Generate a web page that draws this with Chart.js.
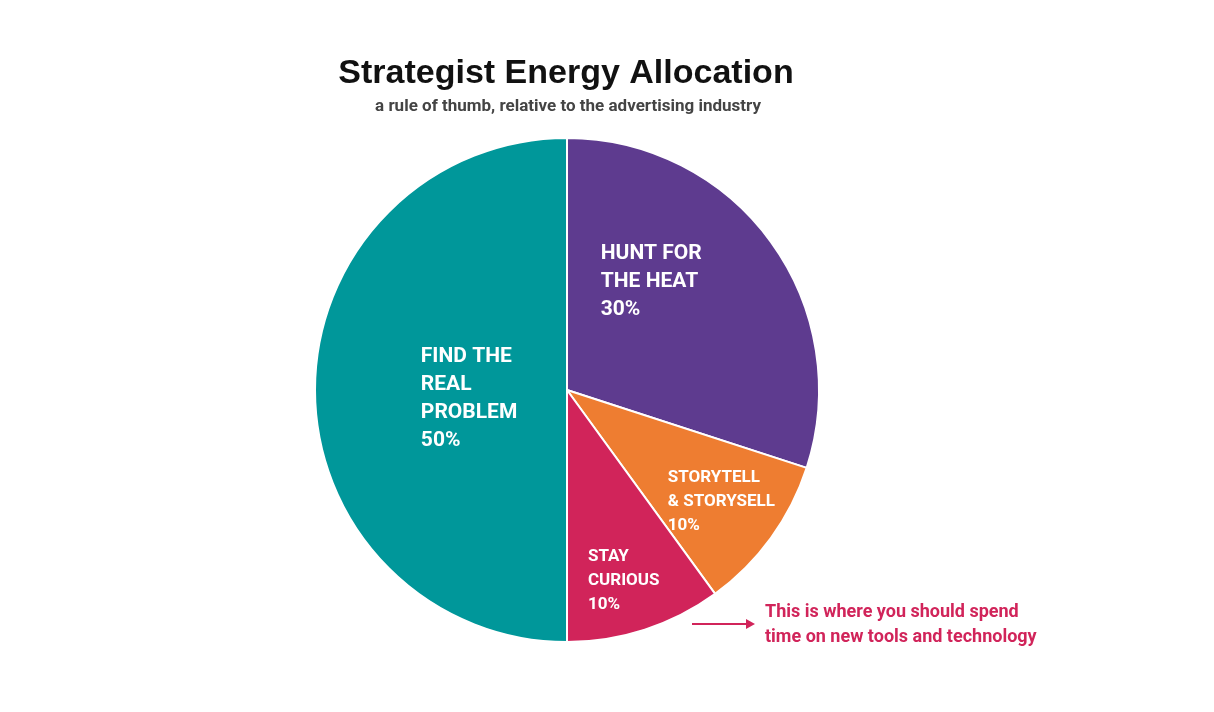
<!DOCTYPE html>
<html><head><meta charset="utf-8">
<script src="https://cdn.jsdelivr.net/npm/chart.js@4/dist/chart.umd.min.js"></script>
<style>html,body{margin:0;padding:0;background:#fff;}#wrap{width:1214px;height:712px;}</style>
</head><body><div id="wrap"><canvas id="c" width="1214" height="712"></canvas></div>
<script>
const categories = ["HUNT FOR THE HEAT", "STORYTELL & STORYSELL", "STAY CURIOUS", "FIND THE REAL PROBLEM"];
const labelLines = [["HUNT FOR","THE HEAT"],["STORYTELL","& STORYSELL"],["STAY","CURIOUS"],["FIND THE","REAL","PROBLEM"]];
const values = [30, 10, 10, 50];
const colors = ["#5E3B8F", "#EE7D31", "#D1245A", "#00979A"];
const title = "Strategist Energy Allocation";
const subtitle = "a rule of thumb, relative to the advertising industry";
const noteLines = ["This is where you should spend", "time on new tools and technology"];

const FONT = "'Liberation Sans Narrow','Arial Narrow','Roboto',sans-serif";
// label placement: [left x offset, first baseline y offset, font size, line height] in fractions of radius
const labelPos = [[0.134,-0.54,21,28],[0.4,0.35,17,24],[0.083,0.66,17,24],[-0.58,-0.13,21,28]];

const overlay = {
  id: 'overlay',
  afterDatasetsDraw(chart) {
    const ctx = chart.ctx;
    const meta = chart.getDatasetMeta(0);
    const a0 = meta.data[0];
    const cx = a0.x, cy = a0.y, R = a0.outerRadius;
    ctx.save();
    ctx.fillStyle = '#fff';
    ctx.textAlign = 'left';
    ctx.textBaseline = 'middle';
    meta.data.forEach((arc, i) => {
      const [fx, fy, fs, lh] = labelPos[i];
      ctx.font = `bold ${fs}px ${FONT}`;
      const lines = labelLines[i].concat([values[i] + '%']);
      lines.forEach((t, k) => ctx.fillText(t, cx + fx * R, cy + fy * R + k * lh));
    });
    // title
    ctx.fillStyle = '#111';
    ctx.textAlign = 'center';
    ctx.font = `bold 34px 'Liberation Sans','Arial',sans-serif`;
    ctx.fillText(title, 566, 74);
    ctx.fillStyle = '#444';
    ctx.font = `bold 17px ${FONT}`;
    ctx.fillText(subtitle, 568, 107);
    // annotation
    ctx.strokeStyle = '#D1245A'; ctx.fillStyle = '#D1245A'; ctx.lineWidth = 2;
    ctx.beginPath(); ctx.moveTo(692, 624); ctx.lineTo(748, 624); ctx.stroke();
    ctx.beginPath(); ctx.moveTo(755, 624); ctx.lineTo(746, 619); ctx.lineTo(746, 629); ctx.closePath(); ctx.fill();
    ctx.textAlign = 'left';
    ctx.font = `bold 18px ${FONT}`;
    noteLines.forEach((t, k) => ctx.fillText(t, 765, 612 + k * 25));
    ctx.restore();
  }
};

new Chart(document.getElementById('c'), {
  type: 'pie',
  data: { labels: categories, datasets: [{ data: values, backgroundColor: colors, borderColor: '#fff', borderWidth: 2 }] },
  options: {
    responsive: false, animation: false,
    layout: { padding: { top: 137, bottom: 69, left: 314, right: 394 } },
    plugins: { legend: { display: false }, tooltip: { enabled: false } }
  },
  plugins: [overlay]
});
</script></body></html>
